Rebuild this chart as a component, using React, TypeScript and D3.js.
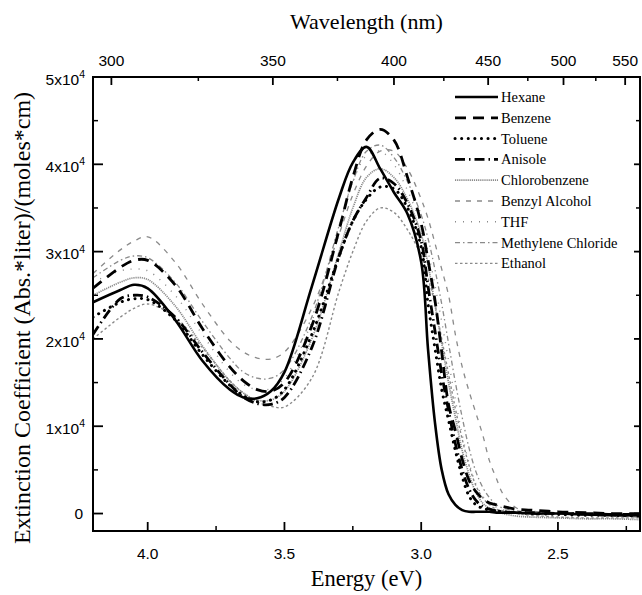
import React from "react";
import { scaleLinear, line, curveCatmullRom } from "d3";

// energy grid (eV) shared by every solvent curve
const energies = [4.2, 4.1, 4.05, 4.0, 3.9, 3.8, 3.7, 3.65, 3.6, 3.55, 3.5, 3.4, 3.3, 3.25, 3.2, 3.15, 3.1, 3.05, 3.0, 2.975, 2.95, 2.925, 2.9, 2.875, 2.85, 2.825, 2.8, 2.775, 2.75, 2.725, 2.7, 2.65, 2.6, 2.5, 2.4, 2.3, 2.2];

// extinction coefficient, units of 1e4
const hexane = [2.42, 2.56, 2.62, 2.58, 2.22, 1.75, 1.42, 1.33, 1.32, 1.4, 1.62, 2.6, 3.62, 4.02, 4.2, 3.95, 3.68, 3.43, 2.88, 1.88, 1.05, 0.5, 0.22, 0.1, 0.04, 0.02, 0.02, 0.02, 0.02, 0.01, 0.01, 0.01, 0.0, 0.0, -0.01, -0.02, -0.02];
const benzene = [2.58, 2.82, 2.9, 2.9, 2.62, 2.12, 1.68, 1.52, 1.42, 1.4, 1.5, 2.15, 3.25, 3.85, 4.28, 4.4, 4.28, 3.85, 3.32, 2.9, 2.45, 1.85, 1.25, 0.95, 0.62, 0.38, 0.25, 0.17, 0.12, 0.1, 0.08, 0.05, 0.04, 0.02, 0.01, 0.0, 0.0];
const toluene = [2.25, 2.42, 2.46, 2.45, 2.22, 1.82, 1.47, 1.35, 1.28, 1.3, 1.42, 2.05, 2.95, 3.35, 3.6, 3.74, 3.72, 3.5, 3.05, 2.4, 1.9, 1.42, 1.07, 0.72, 0.42, 0.2, 0.1, 0.06, 0.04, 0.03, 0.02, 0.01, 0.0, -0.01, -0.02, -0.02, -0.03];
const anisole = [2.05, 2.46, 2.5, 2.48, 2.25, 1.85, 1.48, 1.33, 1.26, 1.25, 1.33, 1.9, 2.95, 3.35, 3.62, 3.84, 3.78, 3.55, 3.12, 2.6, 2.1, 1.6, 1.18, 0.8, 0.5, 0.28, 0.15, 0.08, 0.05, 0.03, 0.02, 0.01, 0.01, 0.0, 0.0, -0.01, -0.01];
const chlorobenzene = [2.5, 2.65, 2.7, 2.68, 2.38, 1.92, 1.52, 1.38, 1.3, 1.3, 1.4, 2.0, 3.0, 3.5, 3.85, 3.95, 3.85, 3.6, 3.2, 2.85, 2.4, 1.95, 1.5, 1.1, 0.72, 0.45, 0.24, 0.12, 0.06, 0.03, 0.0, -0.03, -0.04, -0.05, -0.06, -0.06, -0.07];
const benzylAlcohol = [2.75, 3.02, 3.12, 3.17, 2.88, 2.4, 1.98, 1.85, 1.78, 1.77, 1.85, 2.35, 3.2, 3.65, 3.98, 4.15, 4.15, 3.95, 3.6, 3.38, 3.1, 2.8, 2.5, 2.05, 1.68, 1.4, 1.15, 0.9, 0.6, 0.4, 0.22, 0.06, 0.03, 0.0, -0.02, -0.03, -0.04];
const thf = [2.65, 2.78, 2.8, 2.78, 2.5, 2.05, 1.62, 1.48, 1.42, 1.43, 1.55, 2.2, 3.3, 3.8, 4.1, 4.15, 4.0, 3.7, 3.3, 3.0, 2.62, 2.2, 1.75, 1.3, 0.9, 0.58, 0.34, 0.2, 0.12, 0.07, 0.04, 0.02, 0.01, 0.0, -0.01, -0.02, -0.02];
const methyleneChloride = [2.7, 2.9, 2.95, 2.93, 2.65, 2.2, 1.78, 1.62, 1.55, 1.55, 1.65, 2.25, 3.3, 3.8, 4.15, 4.22, 4.08, 3.8, 3.42, 3.15, 2.8, 2.4, 1.95, 1.5, 1.1, 0.75, 0.48, 0.3, 0.18, 0.1, 0.06, 0.03, 0.02, 0.0, -0.01, -0.02, -0.03];
const ethanol = [2.0, 2.25, 2.35, 2.4, 2.25, 1.9, 1.52, 1.38, 1.28, 1.23, 1.22, 1.55, 2.55, 3.0, 3.35, 3.5, 3.45, 3.25, 2.95, 2.7, 2.4, 2.0, 1.6, 1.2, 0.85, 0.55, 0.32, 0.18, 0.1, 0.05, 0.03, 0.0, -0.02, -0.04, -0.05, -0.05, -0.05];

const solventNames = ["Hexane", "Benzene", "Toluene", "Anisole", "Chlorobenzene", "Benzyl Alcohol", "THF", "Methylene Chloride", "Ethanol"];
const solventValues = [hexane, benzene, toluene, anisole, chlorobenzene, benzylAlcohol, thf, methyleneChloride, ethanol];

const energyTicks = [4.0, 3.5, 3.0, 2.5];
const energyMinorTicks = [3.75, 3.25, 2.75, 2.25];
const wavelengthTicks = [300, 350, 400, 450, 500, 550];
const wavelengthMinorTicks = [325, 375, 425, 475, 525];
const yTicks = [0, 1, 2, 3, 4, 5];
const yMinorTicks = [0.5, 1.5, 2.5, 3.5, 4.5];

// line look per solvent
const styles = [
  { stroke: "#000", width: 2.6, dash: "none", cap: "butt" },
  { stroke: "#000", width: 2.8, dash: "11,7", cap: "butt" },
  { stroke: "#000", width: 3, dash: "0.1,6.5", cap: "round" },
  { stroke: "#000", width: 2.8, dash: "10,4,1.5,4", cap: "butt" },
  { stroke: "#8a8a8a", width: 1.7, dash: "1.2,0.9", cap: "butt" },
  { stroke: "#8a8a8a", width: 1.3, dash: "5,6", cap: "butt" },
  { stroke: "#8a8a8a", width: 1.4, dash: "1,7", cap: "butt" },
  { stroke: "#8a8a8a", width: 1.3, dash: "5,3,1.5,3", cap: "butt" },
  { stroke: "#8a8a8a", width: 1.4, dash: "2.5,2.5", cap: "butt" },
];

const sans = "'Liberation Sans', Arial, Helvetica, sans-serif";
const serif = "'Liberation Serif', 'Times New Roman', Times, serif";

const App = ({ width = 642, height = 595 }) => {
  const left = 93, right = 640, top = 77, bottom = 531;
  const x = scaleLinear().domain([4.2, 2.2]).range([left, right]);
  const y = scaleLinear().domain([-0.2, 5.0]).range([bottom, top]);
  const nmToX = (nm: number) => x(1239.84 / nm);

  const path = line<number>()
    .x((d, i) => x(energies[i]))
    .y((d) => y(d))
    .curve(curveCatmullRom.alpha(0.5));

  const drawOrder = [4, 5, 6, 7, 8, 3, 2, 1, 0];
  const legX0 = 455, legX1 = 498, legY0 = 97, legStep = 20.8;

  return (
    <div style={{ position: "absolute", left: 0, top: 0, width, height, overflow: "hidden" }}>
      <svg width={width} height={height} style={{ display: "block", background: "#fff" }}>
        <defs>
          <clipPath id="plotClip">
            <rect x={left} y={top} width={right - left} height={bottom - top} />
          </clipPath>
        </defs>

        <g clipPath="url(#plotClip)">
          {drawOrder.map((k) => (
            <path
              key={k}
              d={path(solventValues[k]) || ""}
              fill="none"
              stroke={styles[k].stroke}
              strokeWidth={styles[k].width}
              strokeDasharray={styles[k].dash}
              strokeLinecap={styles[k].cap as any}
            />
          ))}
        </g>

        {/* frame */}
        <rect x={left} y={top} width={right - left} height={bottom - top} fill="none" stroke="#000" strokeWidth={2} />

        {/* bottom energy axis */}
        {energyTicks.map((t) => (
          <g key={"e" + t}>
            <line x1={x(t)} x2={x(t)} y1={bottom} y2={bottom - 9} stroke="#000" strokeWidth={1.8} />
            <text x={x(t)} y={559} textAnchor="middle" fontFamily={sans} fontSize={15.5}>{t.toFixed(1)}</text>
          </g>
        ))}
        {energyMinorTicks.map((t) => (
          <line key={"em" + t} x1={x(t)} x2={x(t)} y1={bottom} y2={bottom - 5} stroke="#000" strokeWidth={1.5} />
        ))}
        <text x={(left + right) / 2} y={586} textAnchor="middle" fontFamily={serif} fontSize={22.5}>Energy (eV)</text>

        {/* top wavelength axis */}
        {wavelengthTicks.map((t) => (
          <g key={"w" + t}>
            <line x1={nmToX(t)} x2={nmToX(t)} y1={top} y2={top + 8} stroke="#000" strokeWidth={1.8} />
            <text x={nmToX(t)} y={66} textAnchor="middle" fontFamily={sans} fontSize={15.5}>{t}</text>
          </g>
        ))}
        {wavelengthMinorTicks.map((t) => (
          <line key={"wm" + t} x1={nmToX(t)} x2={nmToX(t)} y1={top} y2={top + 4} stroke="#000" strokeWidth={1.5} />
        ))}
        <text x={(left + right) / 2} y={29} textAnchor="middle" fontFamily={serif} fontSize={22}>Wavelength (nm)</text>

        {/* y axis, mirrored on the right */}
        {yTicks.map((t) => (
          <g key={"y" + t}>
            <line x1={left} x2={left + 10} y1={y(t)} y2={y(t)} stroke="#000" strokeWidth={1.8} />
            <line x1={right} x2={right - 6} y1={y(t)} y2={y(t)} stroke="#000" strokeWidth={1.8} />
            {t === 0 ? (
              <text x={83} y={y(t)} dy="0.36em" textAnchor="end" fontFamily={sans} fontSize={15.5}>0</text>
            ) : (
              <text x={85} y={y(t)} dy="0.5em" textAnchor="end" fontFamily={sans} fontSize={15.5}>
                {t}x10<tspan dy="-0.65em" fontSize={10.5}>4</tspan>
              </text>
            )}
          </g>
        ))}
        {yMinorTicks.map((t) => (
          <g key={"ym" + t}>
            <line x1={left} x2={left + 5} y1={y(t)} y2={y(t)} stroke="#000" strokeWidth={1.5} />
            <line x1={right} x2={right - 4} y1={y(t)} y2={y(t)} stroke="#000" strokeWidth={1.5} />
          </g>
        ))}
        <text
          transform={`translate(30,318) rotate(-90)`}
          textAnchor="middle"
          fontFamily={serif}
          fontSize={24}
        >
          Extinction Coefficient (Abs.*liter)/(moles*cm)
        </text>

        {/* legend */}
        {solventNames.map((name, i) => {
          const ly = legY0 + i * legStep;
          return (
            <g key={name}>
              <line
                x1={legX0}
                x2={legX1}
                y1={ly}
                y2={ly}
                stroke={styles[i].stroke}
                strokeWidth={styles[i].width}
                strokeDasharray={styles[i].dash}
                strokeLinecap={styles[i].cap as any}
              />
              <text x={legX1 + 3} y={ly} dy="0.35em" fontFamily={serif} fontSize={14.5}>{name}</text>
            </g>
          );
        })}
      </svg>
    </div>
  );
};

export default App;
